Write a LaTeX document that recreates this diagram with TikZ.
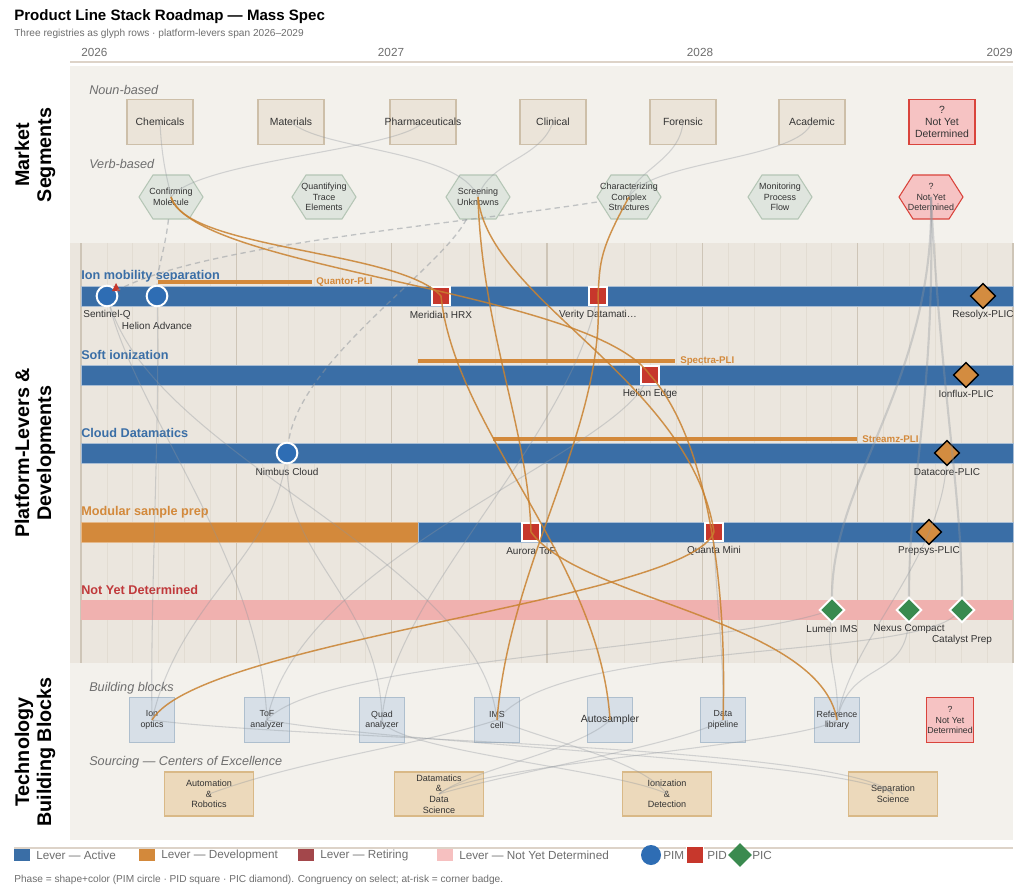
\documentclass[tikz,border=0pt]{standalone}
\usepackage{fontspec}
\setmainfont{Liberation Sans}
\setsansfont{Liberation Sans}
\usetikzlibrary{shapes.geometric}
\definecolor{cblue}{HTML}{3A6EA6}
\definecolor{cbarline}{HTML}{A9BDD3}
\definecolor{cpim}{HTML}{2E6DB4}
\definecolor{cpid}{HTML}{C7372C}
\definecolor{corange}{HTML}{D3893B}
\definecolor{cplic}{HTML}{D38C40}
\definecolor{cpicg}{HTML}{3A8A4F}
\definecolor{cnydbar}{HTML}{F0B1AF}
\definecolor{cnydfill}{HTML}{F6C3C3}
\definecolor{cnydline}{HTML}{D9443C}
\definecolor{cnydtext}{HTML}{C0393B}
\definecolor{cretire}{HTML}{A3474B}
\definecolor{cnydlite}{HTML}{F6C0C0}
\definecolor{csegfill}{HTML}{EBE4D9}
\definecolor{csegline}{HTML}{CDBFA9}
\definecolor{chexfill}{HTML}{DFE5DE}
\definecolor{chexline}{HTML}{B5C6B6}
\definecolor{cblockfill}{HTML}{D7DFE7}
\definecolor{cblockline}{HTML}{AEBFCE}
\definecolor{ccoefill}{HTML}{ECD9BB}
\definecolor{ccoeline}{HTML}{D9B987}
\definecolor{cpanel}{HTML}{F3F1EC}
\definecolor{cpaneldark}{HTML}{EBE6DE}
\definecolor{cmajor}{HTML}{CEC5B7}
\definecolor{cminor}{HTML}{E2DCD2}
\definecolor{caxis}{HTML}{DDD3C8}
\definecolor{cink}{HTML}{333333}
\definecolor{cmuted}{HTML}{6E6E6E}
\definecolor{cdevlink}{HTML}{C98230}
\definecolor{cglink}{HTML}{8F959C}
\tikzset{
  every picture/.style={font=\sffamily},
  titletext/.style={anchor=west, inner sep=0pt, font=\bfseries\fontsize{11.3}{13}\selectfont},
  subtext/.style={anchor=west, inner sep=0pt, font=\fontsize{7.6}{9}\selectfont, text=cmuted},
  yeartext/.style={inner sep=0pt, font=\fontsize{8.8}{10}\selectfont, text=cmuted},
  sectext/.style={rotate=90, align=center, font=\bfseries\fontsize{14.8}{16.5}\selectfont},
  subhead/.style={anchor=west, inner sep=0pt, font=\itshape\fontsize{9.5}{11}\selectfont, text=cmuted},
  segbox/.style={draw=csegline, fill=csegfill, line width=0.8pt, minimum width=49.5pt, minimum height=33.75pt, inner sep=1pt, align=center, font=\fontsize{7.8}{9.2}\selectfont, text=cink},
  nydbox/.style={draw=cnydline, fill=cnydfill, line width=1pt},
  hexshape/.style={draw=chexline, fill=chexfill, line width=0.8pt},
  hextext/.style={align=center, inner sep=0pt, minimum width=48pt, minimum height=33pt, font=\fontsize{6.7}{7.8}\selectfont, text=cink},
  blockbox/.style={draw=cblockline, fill=cblockfill, line width=0.8pt, minimum size=33.75pt, inner sep=0.5pt, align=center, font=\fontsize{6.6}{7.8}\selectfont, text=cink},
  coebox/.style={draw=ccoeline, fill=ccoefill, line width=0.8pt, minimum width=66.75pt, minimum height=33pt, inner sep=0.5pt, align=center, font=\fontsize{6.8}{7.9}\selectfont, text=cink},
  rowtext/.style={anchor=west, inner sep=0pt, font=\bfseries\fontsize{9.5}{11}\selectfont},
  plitext/.style={anchor=west, inner sep=0pt, text=corange, font=\bfseries\fontsize{7.3}{8.5}\selectfont},
  plabel/.style={inner sep=0pt, font=\fontsize{7.5}{9}\selectfont, text=cink},
  pimglyph/.style={circle, fill=cpim, draw=white, line width=1.5pt, minimum size=15.5pt, inner sep=0pt},
  pidglyph/.style={rectangle, fill=cpid, draw=white, line width=1.5pt, minimum size=13.5pt, inner sep=0pt},
  plicglyph/.style={diamond, fill=cplic, draw=black, line width=1pt, minimum size=19pt, inner sep=0pt},
  picglyph/.style={diamond, fill=cpicg, draw=white, line width=1.5pt, minimum size=19pt, inner sep=0pt},
  leverbar/.style={draw=cbarline, line width=0.6pt},
  devlink/.style={draw=cdevlink, line width=1.1pt, opacity=0.85},
  glink/.style={draw=cglink, line width=0.8pt, opacity=0.35},
  gthick/.style={draw=cglink, line width=1.6pt, opacity=0.35},
  dlink/.style={draw=cglink, line width=1pt, dash pattern=on 4pt off 3pt, opacity=0.5},
  legtext/.style={anchor=west, inner sep=0pt, font=\fontsize{8.8}{10}\selectfont, text=cmuted},
}

\begin{document}
\begin{tikzpicture}[x=0.75pt, y=-0.75pt]
  \useasboundingbox (0,0) rectangle (1030,891);
  \fill[white] (0,0) rectangle (1030,891);
  % title and time axis
  \node[titletext] (title) at (14,17) {Product Line Stack Roadmap — Mass Spec};
  \node[subtext] (subtitle) at (14,34) {Three registries as glyph rows · platform-levers span 2026–2029};
  \node[yeartext, anchor=west] (y26) at (81,52) {2026};
  \node[yeartext] (y27) at (391,52) {2027};
  \node[yeartext] (y28) at (700,52) {2028};
  \node[yeartext, anchor=east] (y29) at (1013,52) {2029};
  \draw[caxis, line width=1.2pt] (70,62) -- (1013,62);
  % panels
  \fill[cpanel] (70,66) rectangle (1013,243);
  \fill[cpaneldark] (70,243) rectangle (1013,663);
  \fill[cpanel] (70,663) rectangle (1013,840);
  \foreach \i in {0,...,36} \draw[cminor, line width=0.5pt] ({81+\i*25.889},243) -- ({81+\i*25.889},663);
  \foreach \i in {0,...,6} \draw[cmajor, line width=0.9pt] ({81+\i*155.33},243) -- ({81+\i*155.33},663);
  \node[sectext] (secms) at (35,155) {Market\\Segments};
  \node[sectext] (secpl) at (35,453) {Platform-Levers \&\\Developments};
  \node[sectext] (sectb) at (35,752) {Technology\\Building Blocks};
  % market segments
  \node[subhead] (hnoun) at (89,90) {Noun-based};
  \foreach \nm/\x/\txt in {chem/160/Chemicals, mat/291/Materials, pharma/423/\makebox[0pt]{Pharmaceuticals}, clin/553/Clinical, foren/683/Forensic, acad/812/Academic}
    \node[segbox] (\nm) at (\x,122) {\txt};
  \node[segbox, nydbox] (nyds) at (942,122) {?\\Not Yet\\Determined};
  \node[subhead] (hverb) at (89,164) {Verb-based};
  \foreach \nm/\x/\txt in {cm/171/Confirming\\Molecule, qte/324/Quantifying\\Trace\\Elements, su/478/Screening\\Unknowns, ccs/629/Characterizing\\Complex\\Structures, mpf/780/Monitoring\\Process\\Flow} {
    \draw[hexshape] (\x-32,197) -- (\x-18,175) -- (\x+18,175) -- (\x+32,197) -- (\x+18,219) -- (\x-18,219) -- cycle;
    \node[hextext] (\nm) at (\x,197) {\txt};
  }
  \draw[hexshape, draw=cnydline, fill=cnydfill] (899,197) -- (913,175) -- (949,175) -- (963,197) -- (949,219) -- (913,219) -- cycle;
  \node[hextext] (nydh) at (931,197) {?\\Not Yet\\Determined};
  % lever rows
  \node[rowtext, text=cblue] (row1) at (81,276) {Ion mobility separation};
  \filldraw[leverbar, fill=cblue] (81,286) rectangle (1013,306);
  \fill[corange] (158,280) rectangle (312,284);
  \node[plitext] (quantor) at (316,282) {Quantor-PLI};
  \node[rowtext, text=cblue] (row2) at (81,355) {Soft ionization};
  \filldraw[leverbar, fill=cblue] (81,365) rectangle (1013,385);
  \fill[corange] (418,359) rectangle (675,363);
  \node[plitext] (spectra) at (680,361) {Spectra-PLI};
  \node[rowtext, text=cblue] (row3) at (81,433) {Cloud Datamatics};
  \filldraw[leverbar, fill=cblue] (81,443) rectangle (1013,463);
  \fill[corange] (493,437) rectangle (857,441);
  \node[plitext] (streamz) at (862,439) {Streamz-PLI};
  \node[rowtext, text=corange] (row4) at (81,512) {Modular sample prep};
  \filldraw[leverbar, fill=corange, draw=corange!60!white] (81,522) rectangle (418,542);
  \filldraw[leverbar, fill=cblue] (418,522) rectangle (1013,542);
  \node[rowtext, text=cnydtext] (row5) at (81,590) {Not Yet Determined};
  \fill[cnydbar] (81,600) rectangle (1013,620);
  % glyphs
  \foreach \nm/\x/\y/\ly/\lab in {sentq/107/296/315/Sentinel-Q, helad/157/296/326/Helion Advance, nimbus/287/453/472/Nimbus Cloud} {
    \node[pimglyph] (\nm) at (\x,\y) {};
    \node[plabel] (\nm-lab) at (\x,\ly) {\lab};
  }
  \fill[cpid] (112,291) -- (120,291) -- (116,283) -- cycle;
  \foreach \nm/\x/\y/\ly/\lab in {merid/441/296/315/Meridian HRX, verity/598/296/315/Verity Datamati…, heledge/650/375/394/Helion Edge, aurora/531/532/551/Aurora ToF, quanta/714/532/551/Quanta Mini} {
    \node[pidglyph] (\nm) at (\x,\y) {};
    \node[plabel] (\nm-lab) at (\x,\ly) {\lab};
  }
  \foreach \nm/\x/\y/\ly/\lab in {resolyx/983/296/315/Resolyx-PLIC, ionflux/966/375/394/Ionflux-PLIC, datacore/947/453/472/Datacore-PLIC, prepsys/929/532/551/Prepsys-PLIC} {
    \node[plicglyph] (\nm) at (\x,\y) {};
    \node[plabel] (\nm-lab) at (\x,\ly) {\lab};
  }
  \foreach \nm/\x/\y/\ly/\lab in {lumen/832/610/629/Lumen IMS, nexus/909/610/629/Nexus Compact, catalyst/962/610/640/Catalyst Prep} {
    \node[picglyph] (\nm) at (\x,\y) {};
    \node[plabel] (\nm-lab) at (\x,\ly) {\lab};
  }
  % technology building blocks
  \node[subhead] (hblocks) at (89,688) {Building blocks};
  \foreach \nm/\x/\txt in {optics/152/Ion\\optics, tof/267/ToF\\analyzer, quad/382/Quad\\analyzer, ims/497/IMS\\cell, datap/723/Data\\pipeline, refl/837/Reference\\library}
    \node[blockbox] (\nm) at (\x,720) {\txt};
  \node[blockbox, font=\fontsize{7.8}{9}\selectfont] (autos) at (610,720) {\makebox[0pt]{Autosampler}};
  \node[blockbox, nydbox] (nydb) at (950,720) {?\\Not Yet\\Determined};
  \node[subhead] (hsourcing) at (89,762) {Sourcing — Centers of Excellence};
  \foreach \nm/\x/\txt in {autom/209/Automation\\\&\\Robotics, datam/439/Datamatics\\\&\\Data\\Science, ioniz/667/Ionization\\\&\\Detection, sepsci/893/Separation\\Science}
    \node[coebox] (\nm) at (\x,794) {\txt};
  % grey links
  \draw[glink] (chem.center) .. controls (162,165) and (168,180) .. (cm.center);
  \draw[glink] (mat.center) .. controls (320,150) and (460,150) .. (su.center);
  \draw[glink] (pharma.center) .. controls (400,150) and (200,160) .. (cm.center);
  \draw[glink] (clin.center) .. controls (540,160) and (490,160) .. (su.center);
  \draw[glink] (foren.center) .. controls (680,160) and (635,170) .. (ccs.center);
  \draw[glink] (acad.center) .. controls (800,160) and (650,160) .. (ccs.center);
  \draw[gthick] (nydh.center) .. controls (935,380) and (832,480) .. (lumen);
  \draw[gthick] (nydh.center) .. controls (935,400) and (909,480) .. (nexus);
  \draw[gthick] (nydh.center) .. controls (940,380) and (962,500) .. (catalyst);
  \draw[glink] (lumen) .. controls (826,660) and (840,680) .. (refl.center);
  \draw[glink] (nexus) .. controls (905,680) and (850,660) .. (refl.center);
  \draw[glink] (catalyst) .. controls (900,660) and (560,640) .. (ims.center);
  \draw[glink] (lumen) .. controls (700,650) and (320,660) .. (tof.center);
  \draw[glink] (sentq) .. controls (140,420) and (260,560) .. (tof.center);
  \draw[glink] (helad) .. controls (160,420) and (150,600) .. (optics.center);
  \draw[glink] (sentq) .. controls (160,460) and (480,560) .. (ims.center);
  \draw[glink] (nimbus) .. controls (287,560) and (380,600) .. (quad.center);
  \draw[glink] (nimbus) .. controls (270,560) and (180,600) .. (optics.center);
  \draw[glink] (verity) .. controls (560,450) and (390,600) .. (quad.center);
  \draw[glink] (heledge) .. controls (600,460) and (300,560) .. (tof.center);
  \draw[glink] (datacore) .. controls (940,560) and (850,640) .. (refl.center);
  \draw[glink] (quanta) .. controls (716,600) and (724,650) .. (datap.center);
  \draw[glink] (optics.center) .. controls (300,740) and (850,745) .. (sepsci.center);
  \draw[glink] (tof.center) .. controls (400,745) and (850,760) .. (sepsci.center);
  \draw[glink] (ims.center) .. controls (560,745) and (640,760) .. (ioniz.center);
  \draw[glink] (autom.center) .. controls (300,760) and (420,745) .. (ims.center);
  \draw[glink] (datam.center) .. controls (520,770) and (680,745) .. (datap.center);
  \draw[glink] (autos.center) .. controls (580,750) and (470,770) .. (datam.center);
  \draw[glink] (refl.center) .. controls (800,745) and (470,765) .. (datam.center);
  \draw[glink] (quad.center) .. controls (390,750) and (620,770) .. (ioniz.center);
  \draw[dlink] (cm) .. controls (165,250) and (157,270) .. (helad);
  \draw[dlink] (ccs) .. controls (450,225) and (200,245) .. (sentq);
  \draw[dlink] (su) .. controls (440,270) and (300,360) .. (nimbus);
  % development links
  \draw[devlink] (cm.center) .. controls (185,250) and (400,250) .. (merid.center);
  \draw[devlink] (cm.center) .. controls (195,270) and (590,290) .. (heledge.center);
  \draw[devlink] (heledge.center) .. controls (700,430) and (728,560) .. (datap.center);
  \draw[devlink] (su.center) .. controls (482,330) and (528,430) .. (aurora.center);
  \draw[devlink] (su.center) .. controls (488,300) and (690,380) .. (quanta.center);
  \draw[devlink] (merid.center) .. controls (455,430) and (600,560) .. (autos.center);
  \draw[devlink] (aurora.center) .. controls (580,600) and (820,620) .. (refl.center);
  \draw[devlink] (ccs.center) .. controls (600,250) and (600,260) .. (verity.center);
  \draw[devlink] (verity.center) .. controls (605,430) and (510,560) .. (ims.center);
  \draw[devlink] (optics.center) .. controls (200,640) and (690,600) .. (quanta.center);
  % legend
  \draw[caxis, line width=1pt] (14,848) -- (1013,848);
  \foreach \c/\x/\txt in {cblue/14/Lever — Active, corange/139/Lever — Development, cretire/298/Lever — Retiring, cnydlite/437/Lever — Not Yet Determined} {
    \fill[\c] (\x,849) rectangle (\x+16,861);
    \node[legtext] (leg\x) at (\x+22,855) {\txt};
  }
  \node[circle, fill=cpim, minimum size=15pt, inner sep=0pt] (legpim) at (651,855) {};
  \node[legtext] (legpimt) at (663,855) {PIM};
  \node[pidglyph, line width=0.8pt, minimum size=12.5pt] (legpid) at (695,855) {};
  \node[legtext] (legpidt) at (707,855) {PID};
  \node[diamond, fill=cpicg, minimum size=18pt, inner sep=0pt] (legpic) at (740,855) {};
  \node[legtext] (legpict) at (752,855) {PIC};
  \node[subtext] (footnote) at (14,880) {Phase = shape+color (PIM circle · PID square · PIC diamond). Congruency on select; at-risk = corner badge.};
\end{tikzpicture}
\end{document}
